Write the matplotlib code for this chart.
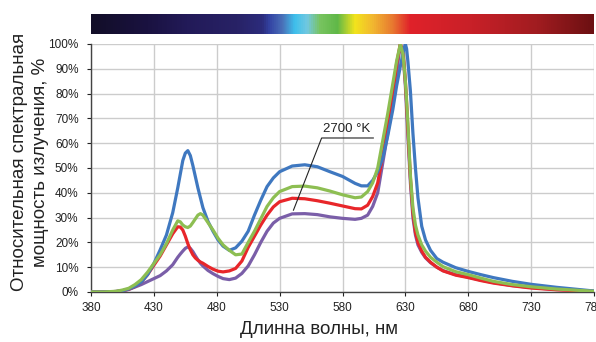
import numpy as np
import matplotlib
matplotlib.use("Agg")
import matplotlib.pyplot as plt
from matplotlib.colors import LinearSegmentedColormap

plt.rcParams['font.family'] = ['Liberation Sans', 'DejaVu Sans']

wl = [380, 390, 400, 405, 410, 415, 420, 425, 430, 435,
      440, 445, 449, 451, 453, 455, 457, 459, 461, 463,
      465, 467, 469, 473, 477, 481, 485, 490, 495, 500,
      505, 510, 515, 520, 525, 530, 540, 550, 560, 570,
      580, 590, 595, 600, 604, 608, 612, 616, 620, 623,
      626, 628, 629, 630, 631, 632, 634, 636, 638, 640,
      643, 646, 650, 655, 660, 670, 680, 690, 700, 715,
      730, 750, 780]

blue = [0, 0, 0.2, 0.5, 1.2, 2.3, 4, 7, 11.5, 17,
        23, 32, 42, 47.5, 53, 56, 57, 55, 51, 46.5,
        42, 38, 34, 28.5, 24.5, 21, 18.5, 16.8, 17.8, 20.5,
        24.5, 31, 37, 42.5, 46, 48.5, 50.8, 51.3, 50.5, 48.5,
        46.6, 43.8, 42.8, 42.8, 45, 48.5, 54, 63, 73.5, 83,
        91, 96, 98.5, 100, 98, 93, 81, 64, 50, 38,
        26.5, 21, 16.8, 13.5, 12, 9.8, 8.3, 7, 5.8, 4.3,
        3.1, 1.9, 0.4]

green = [0, 0, 0.3, 0.8, 1.5, 3, 5, 8, 11.5, 15,
         19.5, 25, 28.7, 28.3, 27, 26.3, 26, 26.6, 28, 29.5,
         31, 31.6, 31, 28, 25, 21.7, 19, 16.8, 15, 15.3,
         20, 24.5, 29.5, 34.5, 38, 40.5, 42.5, 42.7, 42, 40.7,
         39.2, 38, 38.3, 40.5, 44, 50, 61, 72, 84, 93,
         100, 96, 91, 85, 77, 68, 47, 34, 27, 23,
         19, 16.5, 14, 12, 10.2, 8.2, 7, 5.6, 4.3, 3,
         2.1, 1.2, 0.3]

red = [0, 0, 0.2, 0.5, 1.1, 2.2, 4, 7, 10.8, 14.5,
       19, 23.5, 26.3, 26.2, 25, 22.5, 19.5, 17, 15, 13.7,
       12.8, 12.1, 11.6, 10.3, 9.2, 8.4, 8.1, 8.5, 9.5, 12.5,
       18, 22.5, 27, 31, 34.3, 36.4, 37.8, 37.6, 36.8, 35.8,
       34.7, 33.6, 33.5, 35, 38.5, 44, 55, 67, 80, 92,
       100, 97, 91.5, 85, 76, 66, 46, 32, 24, 20,
       16.5, 14, 12, 10, 8.5, 6.8, 5.8, 4.6, 3.6, 2.5,
       1.6, 0.9, 0.2]

purple = [0, 0, 0.2, 0.5, 1, 2, 3, 4.2, 5.4, 6.6,
          8.5, 11, 14, 15.3, 16.5, 17.6, 18.2, 17.6, 16.3, 14.6,
          13, 11.6, 10.5, 8.7, 7.4, 6.3, 5.4, 5, 5.6, 7.5,
          10.5, 15, 20, 24.5, 27.8, 29.7, 31.5, 31.6, 31.2, 30.3,
          29.7, 29.3, 29.7, 31, 34.5, 40, 52, 64, 76, 88,
          100, 96, 90, 83, 73, 63, 44, 30, 23, 19,
          16, 13.8, 11.8, 10, 8.6, 7, 6, 4.8, 3.8, 2.6,
          1.8, 1.0, 0.3]

x_ticks = [380, 430, 480, 530, 580, 630, 680, 730, 780]
y_ticks = [0, 10, 20, 30, 40, 50, 60, 70, 80, 90, 100]
y_ticklabels = [f"{v}%" for v in y_ticks]

annot_text = "2700 °K"
xlabel = "Длинна волны, нм"
ylabel = "Относительная спектральная\nмощность излучения, %"

W, H = 596, 342
fig = plt.figure(figsize=(W / 100, H / 100), dpi=100)

L, R = 91 / W, 594 / W
ax = fig.add_axes([L, 1 - 292 / H, R - L, (292 - 44) / H])

series = [(purple, '#7a5ea8'), (red, '#e8262a'), (blue, '#3f78c0'), (green, '#8dbe52')]
for i, (vals, col) in enumerate(series):
    ax.plot(wl, vals, color=col, lw=2.3, solid_capstyle='round', solid_joinstyle='round',
            zorder=3 + i)

ax.set_xlim(380, 780)
ax.set_ylim(0, 100)
ax.set_xticks(x_ticks)
ax.set_yticks(y_ticks)
ax.set_yticklabels(y_ticklabels)
ax.grid(True, color='#cccccc', lw=1.0)
ax.set_axisbelow(True)
for s in ['top', 'right']:
    ax.spines[s].set_visible(False)
for s in ['left', 'bottom']:
    ax.spines[s].set_color('#444444')
    ax.spines[s].set_linewidth(1.0)
ax.tick_params(axis='both', labelsize=8.5, colors='#222222', length=3, width=0.8, direction='out')
ax.tick_params(axis='x', pad=4)
ax.tick_params(axis='y', pad=6)
for lab in ax.get_xticklabels() + ax.get_yticklabels():
    lab.set_clip_on(False)

# annotation
ax.plot([541, 563.4, 604.5], [33, 62.1, 62.1], color='#222222', lw=0.8, zorder=10)
ax.text(564.5, 63.2, annot_text, fontsize=9.5, color='#222222', ha='left', va='bottom', zorder=10)

# spectrum bar
cax = fig.add_axes([L, 1 - 34.5 / H, R - L, 20.5 / H])
stops = [(0.0, '#120e28'), (0.11, '#1a1240'), (0.19, '#221a58'), (0.29, '#282266'),
         (0.34, '#2c2c7c'), (0.355, '#3444a4'), (0.38, '#4a70b8'), (0.405, '#3ec0ec'),
         (0.43, '#72c8e0'), (0.455, '#78c460'), (0.49, '#60b848'), (0.525, '#f2e41c'),
         (0.56, '#f2b830'), (0.6, '#e87830'), (0.635, '#e0222a'), (0.76, '#c82028'),
         (0.89, '#a01c20'), (1.0, '#6c1012')]
cmap = LinearSegmentedColormap.from_list('spec', stops)
grad = np.linspace(0, 1, 512)[None, :]
cax.imshow(grad, aspect='auto', cmap=cmap, extent=[0, 1, 0, 1])
cax.set_axis_off()

fig.text(319 / W, 1 - 330 / H, xlabel, fontsize=13.5, color='#222222', ha='center', va='center')
fig.text(30 / W, 1 - 162 / H, ylabel, fontsize=13.5, color='#222222', ha='center', va='center',
         rotation=90, linespacing=1.25, multialignment='center')

fig.savefig('out.png', dpi=100)
